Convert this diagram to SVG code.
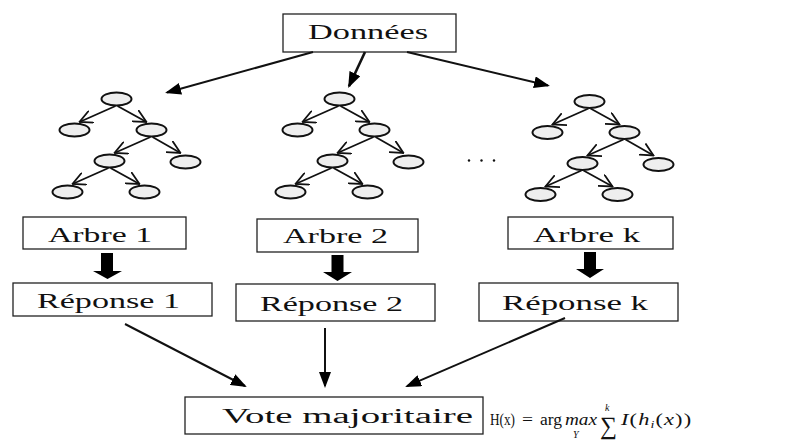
<svg xmlns="http://www.w3.org/2000/svg" xmlns:xlink="http://www.w3.org/1999/xlink" width="796" height="441" viewBox="0 0 796 441">
<style>
.box{fill:#fff;stroke:#222;stroke-width:1.3}
.lbl{font-family:"Liberation Serif","Times New Roman",serif;font-size:20px;fill:#111}
.node{fill:#eeeeee;stroke:#111;stroke-width:2}
.te{stroke:#111;stroke-width:1.8;fill:none;marker-end:url(#open)}
.ar{stroke:#111;stroke-width:2;fill:none;marker-end:url(#fill)}
.blk{fill:#000}
.f{font-family:"Liberation Serif","DejaVu Serif",serif;fill:#111}
</style>
<defs>
<marker id="open" viewBox="0 0 14 14" refX="13" refY="7" markerWidth="14" markerHeight="14" markerUnits="userSpaceOnUse" orient="auto">
<path d="M0,0.5 L13,7 L0,13.5" fill="none" stroke="#111" stroke-width="1.8"/>
</marker>
<marker id="fill" viewBox="0 0 16 12" refX="14" refY="6" markerWidth="16" markerHeight="12" markerUnits="userSpaceOnUse" orient="auto">
<path d="M0,0 L16,6 L0,12 z" fill="#000"/>
</marker>
<g id="tree">
<line class="te" x1="-1" y1="7" x2="-37" y2="23"/>
<line class="te" x1="1" y1="7" x2="30" y2="23"/>
<line class="te" x1="34" y1="38" x2="-2" y2="54"/>
<line class="te" x1="36" y1="38" x2="64" y2="54"/>
<line class="te" x1="-8" y1="69" x2="-44" y2="85"/>
<line class="te" x1="-6" y1="69" x2="23" y2="85"/>
<ellipse class="node" cx="0" cy="0" rx="15" ry="6.5"/>
<ellipse class="node" cx="-42" cy="31" rx="15" ry="6.5"/>
<ellipse class="node" cx="35" cy="31" rx="15" ry="6.5"/>
<ellipse class="node" cx="-7" cy="62" rx="15" ry="6.5"/>
<ellipse class="node" cx="69" cy="63" rx="15" ry="6.5"/>
<ellipse class="node" cx="-49" cy="93" rx="15" ry="6.5"/>
<ellipse class="node" cx="28" cy="93" rx="15" ry="6.5"/>
</g>
</defs>

<g id="donnees">
<rect class="box" x="283" y="14" width="173" height="38"/>
<text class="lbl" x="308" y="39" style="font-size:21px" textLength="120" lengthAdjust="spacingAndGlyphs">Données</text>
</g>

<g id="tree1"><use xlink:href="#tree" href="#tree" transform="translate(116.5,99)"/></g>
<g id="tree2"><use xlink:href="#tree" href="#tree" transform="translate(339.5,99)"/></g>
<g id="tree3"><use xlink:href="#tree" href="#tree" transform="translate(589.5,101.5)"/></g>

<g id="ellipsis" fill="#111">
<circle cx="469" cy="160.5" r="1.2"/>
<circle cx="481.5" cy="160.5" r="1.2"/>
<circle cx="494" cy="160.5" r="1.2"/>
</g>

<g id="arbre1">
<rect class="box" x="23" y="217" width="163" height="32"/>
<text class="lbl" x="48" y="242" textLength="104" lengthAdjust="spacingAndGlyphs">Arbre 1</text>
</g>
<g id="arbre2">
<rect class="box" x="257" y="219" width="161" height="33"/>
<text class="lbl" x="283" y="243" textLength="105" lengthAdjust="spacingAndGlyphs">Arbre 2</text>
</g>
<g id="arbrek">
<rect class="box" x="508" y="217" width="165" height="32"/>
<text class="lbl" x="533" y="242" textLength="107" lengthAdjust="spacingAndGlyphs">Arbre k</text>
</g>

<g id="reponse1">
<rect class="box" x="13" y="283" width="199" height="33"/>
<text class="lbl" x="37" y="308" textLength="143" lengthAdjust="spacingAndGlyphs">Réponse 1</text>
</g>
<g id="reponse2">
<rect class="box" x="236" y="284" width="199" height="37"/>
<text class="lbl" x="260" y="311" textLength="143" lengthAdjust="spacingAndGlyphs">Réponse 2</text>
</g>
<g id="reponsek">
<rect class="box" x="479" y="283" width="199" height="38"/>
<text class="lbl" x="502" y="310" textLength="146" lengthAdjust="spacingAndGlyphs">Réponse k</text>
</g>

<g id="vote">
<rect class="box" x="185" y="397" width="298" height="37"/>
<text class="lbl" x="222" y="423" textLength="251" lengthAdjust="spacingAndGlyphs">Vote majoritaire</text>
</g>

<g id="formula">
<text class="f" x="490" y="425" style="font-size:16px" textLength="25" lengthAdjust="spacingAndGlyphs">H(x)</text>
<text class="f" x="522" y="425" style="font-size:16px" textLength="11" lengthAdjust="spacingAndGlyphs">=</text>
<text class="f" x="540" y="425" style="font-size:16px" textLength="22" lengthAdjust="spacingAndGlyphs">arg</text>
<text class="f" x="565" y="425" style="font-size:16px;font-style:italic" textLength="32" lengthAdjust="spacingAndGlyphs">max</text>
<text class="f" x="573" y="438" style="font-size:10px;font-style:italic">Y</text>
<text class="f" x="600" y="434" style="font-size:25px" textLength="17" lengthAdjust="spacingAndGlyphs">∑</text>
<text class="f" x="605" y="411" style="font-size:10px;font-style:italic">k</text>
<text class="f" x="603" y="449" style="font-size:11px;font-style:italic">i=1</text>
<g transform="translate(621,425) scale(1.4,1)">
<text class="f" x="0" y="0" style="font-size:16px;letter-spacing:0.8px"><tspan style="font-style:italic">I</tspan>(<tspan style="font-style:italic">h</tspan><tspan style="font-size:10px;font-style:italic" dy="3">i</tspan><tspan dy="-3">(</tspan><tspan style="font-style:italic">x</tspan>))</text>
</g>
</g>

<g id="connectors">
<line class="ar" x1="313" y1="52" x2="167" y2="92.5"/>
<line class="ar" x1="365" y1="52" x2="349" y2="86.2" style="stroke-width:2.6"/>
<line class="ar" x1="407" y1="52" x2="548" y2="85.5"/>
<line class="ar" x1="125" y1="324" x2="245" y2="386"/>
<line class="ar" x1="325" y1="328" x2="325" y2="386"/>
<line class="ar" x1="565" y1="318" x2="407" y2="386.2"/>
<polygon class="blk" points="101,253 113,253 113,271 122,271 107.5,279 93,271 101,271"/>
<polygon class="blk" points="331.5,255 343.5,255 343.5,272 352,272 337.5,281 323,272 331.5,272"/>
<polygon class="blk" points="584,252 596,252 596,269 604,269 590,278 576,269 584,269"/>
</g>
</svg>
